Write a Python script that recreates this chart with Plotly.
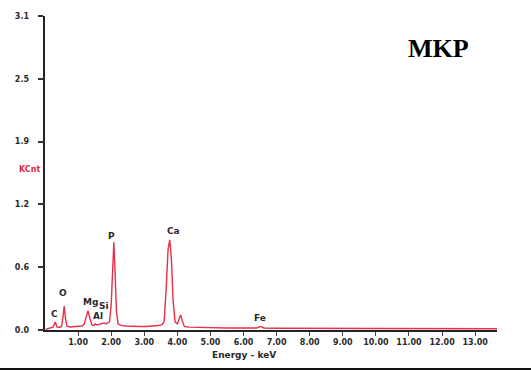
import plotly.graph_objects as go

# EDS spectrum of the MKP sample (energy in keV, intensity in KCnt)
energy_kev = [0.02, 0.10, 0.18, 0.25, 0.31, 0.36, 0.42, 0.50, 0.54, 0.58, 0.62, 0.66,
              0.75, 0.85, 0.95, 1.05, 1.12, 1.18, 1.24, 1.30, 1.36, 1.42, 1.47, 1.52,
              1.58, 1.65, 1.72, 1.78, 1.84, 1.90, 1.95, 2.00, 2.04, 2.08, 2.12, 2.16,
              2.21, 2.30, 2.45, 2.65, 2.85, 3.05, 3.25, 3.42, 3.53, 3.60, 3.66, 3.72,
              3.77, 3.82, 3.87, 3.93, 4.00, 4.05, 4.10, 4.15, 4.21, 4.35, 4.60, 5.00,
              5.50, 6.00, 6.40, 6.51, 6.62, 7.00, 7.50, 8.00, 9.00, 10.00, 11.00, 12.00,
              13.00, 13.66]
kcnt = [0.005, 0.015, 0.020, 0.030, 0.080, 0.030, 0.025, 0.035, 0.120, 0.237, 0.110, 0.040,
        0.030, 0.032, 0.035, 0.035, 0.040, 0.055, 0.130, 0.190, 0.110, 0.050, 0.045, 0.060,
        0.050, 0.055, 0.060, 0.070, 0.060, 0.070, 0.080, 0.250, 0.650, 0.866, 0.550, 0.180,
        0.060, 0.045, 0.040, 0.035, 0.035, 0.035, 0.038, 0.045, 0.050, 0.080, 0.400, 0.800,
        0.890, 0.700, 0.300, 0.080, 0.060, 0.100, 0.150, 0.090, 0.035, 0.028, 0.025, 0.022,
        0.020, 0.020, 0.020, 0.035, 0.020, 0.018, 0.017, 0.016, 0.015, 0.014, 0.013, 0.013,
        0.012, 0.012]

# Element labels and their anchor positions (keV, KCnt)
elements = ["C", "O", "Mg", "Si", "Al", "P", "Ca", "Fe"]
label_x = [0.29, 0.53, 1.37, 1.77, 1.59, 2.01, 3.89, 6.49]
label_y = [0.158, 0.365, 0.28, 0.24, 0.14, 0.93, 0.977, 0.115]

y_ticks = [0.0, 0.62, 1.24, 1.86, 2.48, 3.1]
y_tick_text = ["0.0", "0.6", "1.2", "1.9", "2.5", "3.1"]
x_ticks = [1, 2, 3, 4, 5, 6, 7, 8, 9, 10, 11, 12, 13]
x_tick_text = [f"{v:.2f}" for v in x_ticks]

label_font = dict(family="DejaVu Sans", size=9, color="#2a2a2a")
tick_font = dict(family="DejaVu Sans", size=8, color="#2a2a2a")

fig = go.Figure()
fig.add_trace(go.Scatter(
    x=energy_kev, y=kcnt, mode="lines",
    line=dict(color="#e8304a", width=1.4),
    hoverinfo="skip", showlegend=False,
))

annotations = []
for name, ex, ey in zip(elements, label_x, label_y):
    annotations.append(dict(
        x=ex, y=ey, xref="x", yref="y", text=f"<b>{name}</b>",
        showarrow=False, font=label_font, xanchor="center", yanchor="middle",
    ))
annotations += [
    dict(x=6.0, y=-0.08, xref="x", yref="paper", text="<b>Energy - keV</b>",
         showarrow=False, font=dict(family="DejaVu Sans", size=9, color="#2a2a2a"),
         xanchor="center", yanchor="middle"),
    dict(x=-0.035, y=0.51, xref="paper", yref="paper", text="<b>KCnt</b>",
         showarrow=False, font=dict(family="DejaVu Sans", size=8, color="#e8283f"),
         xanchor="center", yanchor="middle"),
    dict(x=0.87, y=0.898, xref="paper", yref="paper", text="<b>MKP</b>",
         showarrow=False, font=dict(family="Liberation Serif", size=26, color="#000000"),
         xanchor="center", yanchor="middle"),
]

# short tick marks on the left of the y axis, one per y tick value
shapes = [dict(type="line", xref="paper", yref="y", x0=-0.012, x1=0, y0=v, y1=v,
               line=dict(color="#333333", width=1.3)) for v in y_ticks]
# dark rule along the bottom of the figure
shapes.append(dict(type="line", xref="paper", yref="paper",
                   x0=-0.1, x1=1.08, y0=-0.124, y1=-0.124,
                   line=dict(color="#111111", width=2)))

fig.update_layout(
    width=531, height=370,
    margin=dict(l=44.6, r=34.3, t=16, b=40),
    paper_bgcolor="white", plot_bgcolor="white",
    annotations=annotations,
    shapes=shapes,
)
fig.update_xaxes(
    range=[0, 13.66], showgrid=False, zeroline=False,
    showline=True, linecolor="#222222", linewidth=1.5,
    tickmode="array", tickvals=x_ticks, ticktext=[f"<b>{t}</b>" for t in x_tick_text],
    ticks="outside", ticklen=4, tickwidth=1, tickcolor="#444444",
    tickfont=tick_font,
)
# trailing non-breaking spaces keep the y labels a few pixels off the tick marks
fig.update_yaxes(
    range=[0, 3.1], showgrid=False, zeroline=False,
    showline=True, linecolor="#222222", linewidth=1.5,
    tickmode="array", tickvals=y_ticks,
    ticktext=[f"<b>{t}</b>&nbsp;&nbsp;&nbsp;" for t in y_tick_text],
    ticks="outside", ticklen=5, tickwidth=1.5, tickcolor="#333333",
    tickfont=tick_font,
)

fig.write_html("out.html")
